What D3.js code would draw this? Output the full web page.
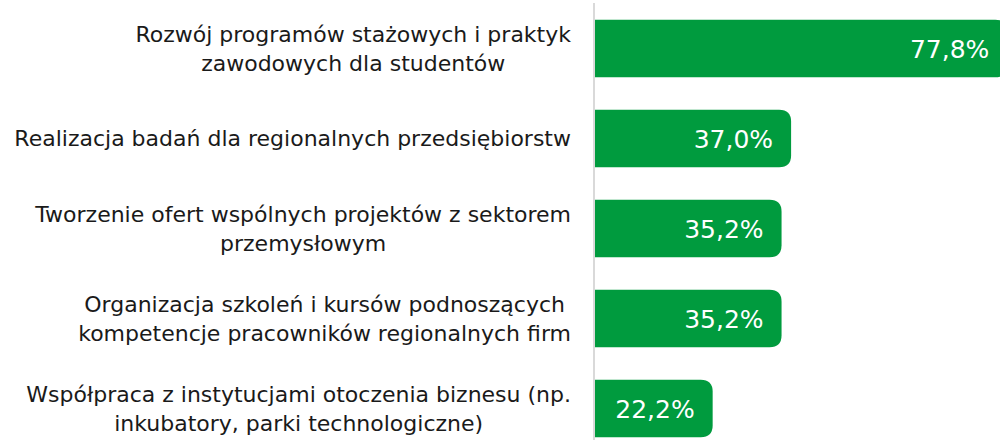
<!DOCTYPE html>
<html>
<head>
<meta charset="utf-8">
<script src="https://cdn.jsdelivr.net/npm/d3@7"></script>
<style>
  body { margin: 0; background: #fff; }
  svg { display: block; font-family: "DejaVu Sans", sans-serif; }
</style>
</head>
<body>
<div id="chart"></div>
<script>
// data
const categories = [
  ["Rozwój programów stażowych i praktyk", "zawodowych dla studentów"],
  ["Realizacja badań dla regionalnych przedsiębiorstw"],
  ["Tworzenie ofert wspólnych projektów z sektorem", "przemysłowym"],
  ["Organizacja szkoleń i kursów podnoszących", "kompetencje pracowników regionalnych firm"],
  ["Współpraca z instytucjami otoczenia biznesu (np.", "inkubatory, parki technologiczne)"]
];
const values = [77.8, 37.0, 35.2, 35.2, 22.2];

const width = 1000;
const height = 444;
const axisX = 595;
const green = "#009b3e";

const svg = d3.select("#chart")
  .append("svg")
  .attr("width", width)
  .attr("height", height);

//scales
const xScale = d3.scaleLinear().domain([0, 100]).range([axisX, axisX + 530]);
const yScale = d3.scaleBand()
  .domain(d3.range(values.length))
  .range([3.5, 453.5])
  .paddingInner(0.36)
  .paddingOuter(0.18);

// bar with rounded right end only
function barPath(x0, y0, x1, h, r) {
  r = Math.min(r, (x1 - x0), h / 2);
  return `M${x0},${y0}H${x1 - r}Q${x1},${y0} ${x1},${y0 + r}` +
    `V${y0 + h - r}Q${x1},${y0 + h} ${x1 - r},${y0 + h}H${x0}Z`;
}

svg.append("g")
  .selectAll("path")
  .data(values)
  .join("path")
  .attr("fill", green)
  .attr("d", (d, i) => barPath(xScale(0), yScale(i), xScale(d), yScale.bandwidth(), 12));

// value labels
svg.append("g")
  .selectAll("text")
  .data(values)
  .join("text")
  .attr("x", (d) => xScale(d) - 18)
  .attr("y", (d, i) => yScale(i) + yScale.bandwidth() / 2)
  .attr("dy", "0.36em")
  .attr("text-anchor", "end")
  .attr("fill", "#fff")
  .attr("font-size", 25)
  .text((d) => d.toFixed(1).replace(".", ",") + "%");

// axis line
svg.append("line")
  .attr("x1", axisX - 1).attr("x2", axisX - 1)
  .attr("y1", 3).attr("y2", 440)
  .attr("stroke", "#d9d9d9")
  .attr("stroke-width", 2);

// category labels, lines centered, block right-aligned
const labelRight = 571;
const lineH = 29;
const labels = svg.append("g")
  .selectAll("text")
  .data(categories)
  .join("text")
  .attr("fill", "#1a1a1a")
  .attr("font-size", 22)
  .attr("text-anchor", "middle");

labels.each(function (lines, i) {
  const t = d3.select(this);
  const cy = yScale(i) + yScale.bandwidth() / 2;
  lines.forEach((l, j) => {
    t.append("tspan")
      .attr("y", cy + (j - (lines.length - 1) / 2) * lineH)
      .attr("dy", "0.36em")
      .text(l);
  });
  const maxW = d3.max(t.selectAll("tspan").nodes(), (n) => n.getComputedTextLength());
  t.selectAll("tspan").attr("x", labelRight - maxW / 2);
});
</script>
</body>
</html>
